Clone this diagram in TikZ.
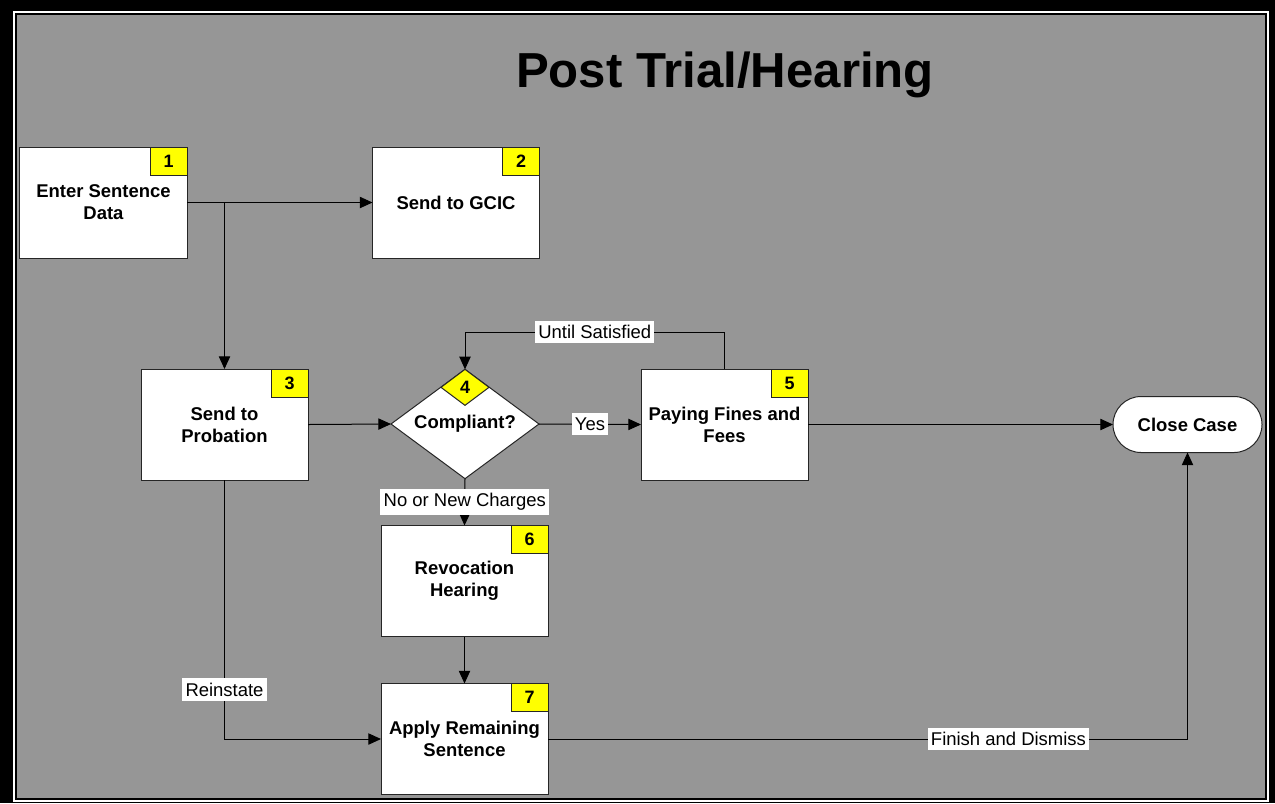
\documentclass[tikz,border=0pt]{standalone}
\usepackage{fontspec}
\setmainfont{Liberation Sans}
\usetikzlibrary{arrows.meta,shapes.geometric,shapes.misc}
\definecolor{panelgray}{RGB}{150,150,150}
\definecolor{badgeyellow}{RGB}{255,255,0}
\tikzset{
  stepbox/.style={draw=black!85,fill=white,line width=0.75bp,minimum width=125.25bp,minimum height=83.25bp,
    inner sep=0pt,outer sep=0pt,align=center,font=\bfseries\fontsize{13.9}{16.5}\selectfont},
  badge/.style={draw=black!85,fill=badgeyellow,line width=0.75bp,minimum width=27.75bp,minimum height=21bp,
    inner sep=0pt,outer sep=0pt,anchor=north east,font=\bfseries\fontsize{13.5}{16}\selectfont},
  lbl/.style={fill=white,inner xsep=2.4bp,inner ysep=3.4bp,font=\fontsize{13.9}{16}\selectfont},
  flow/.style={black,line width=0.75bp,-{Triangle[length=9.5bp,width=8.5bp]}},
}
\begin{document}
\begin{tikzpicture}[x=0.75bp,y=-0.75bp]
\useasboundingbox (0,0) rectangle (1275,803);
%% frame
\fill[black] (0,0) rectangle (1275,803);
\fill[white] (13,11) rectangle (1269,802);
\fill[black] (15,13) rectangle (1267,800);
\fill[panelgray] (17,15) rectangle (1265,797.5);
%%
\node (title) at (725,87) [anchor=base,font=\bfseries\fontsize{37}{41}\selectfont] {Post Trial/Hearing};
  \node (n1) at (103.5,202.5) [stepbox] {Enter Sentence\\Data};
  \node (n2) at (456,202.5) [stepbox] {Send to GCIC};
  \node (n3) at (224.5,424.5) [stepbox] {Send to\\Probation};
  \node (n4) at (465,424) [diamond,draw=black!85,fill=white,line width=0.75bp,aspect=1.36,minimum width=111bp,
    minimum height=82bp,inner sep=0pt,outer sep=0pt,font=\bfseries\fontsize{13.9}{16.5}\selectfont] {Compliant?};
  \node (n5) at (724.5,424.5) [stepbox] {Paying Fines and\\Fees};
  \node (n6) at (464.5,581) [stepbox] {Revocation\\Hearing};
  \node (n7) at (464.5,739) [stepbox] {Apply Remaining\\Sentence};
  \node (close) at (1187.5,424.5) [rounded rectangle,draw=black!85,fill=white,line width=0.75bp,minimum width=111.75bp,
    minimum height=42bp,inner sep=0pt,outer sep=0pt,font=\bfseries\fontsize{13.9}{16.5}\selectfont] {Close Case};
%
  \node (b1) at (n1.north east) [badge] {1};
  \node (b2) at (n2.north east) [badge] {2};
  \node (b3) at (n3.north east) [badge] {3};
  \node (b4) at (n4.north) [diamond,draw=black!85,fill=badgeyellow,line width=0.75bp,aspect=1.33,minimum width=36bp,
    minimum height=27bp,inner sep=0pt,outer sep=0pt,anchor=north,font=\bfseries\fontsize{13.5}{16}\selectfont] {4};
  \node (b5) at (n5.north east) [badge] {5};
  \node (b6) at (n6.north east) [badge] {6};
  \node (b7) at (n7.north east) [badge] {7};
  \coordinate (loop) at (0,332);
%
  \draw [flow] (n1.east) -- (n2.west);
  \draw [flow] (n1.east -| n3.north) -- (n3.north);
  \draw [flow] (n3.east) -- (n4.west);
  \draw [flow] (n4.east) -- node[lbl] {Yes} (n5.west);
  \draw [flow] (n5.north) -- (n5.north |- loop) -- node[lbl] {Until Satisfied} (n4.north |- loop) -- (n4.north);
  \draw [flow] (n5.east) -- (close.west);
  \draw [flow] (n4.south) -- node[lbl] {No or New Charges} (n6.north);
  \draw [flow] (n6.south) -- (n7.north);
  \draw [flow] (n3.south) |- node[lbl,pos=0.405] {Reinstate} (n7.west);
  \draw [flow] (n7.east) -| node[lbl,pos=0.36] {Finish and Dismiss} (close.south);
%
\end{tikzpicture}
\end{document}
